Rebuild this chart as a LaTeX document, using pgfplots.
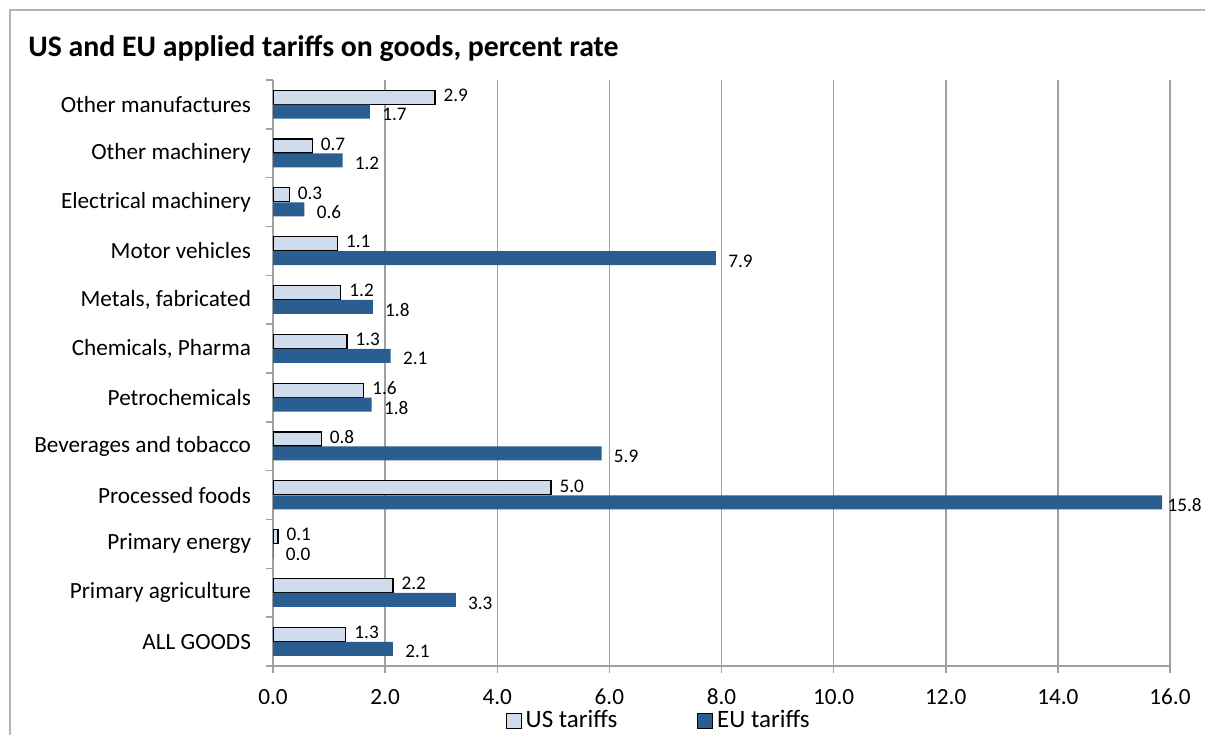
\documentclass[border=0pt]{standalone}
\usepackage{fontspec}
\setmainfont{Carlito}
\usepackage{pgfplots}
\pgfplotsset{compat=1.18}
\definecolor{usfill}{RGB}{208,219,235}
\definecolor{eufill}{RGB}{42,93,144}
\definecolor{gridc}{RGB}{160,160,160}
\definecolor{framec}{RGB}{180,180,180}
\begin{document}
\begin{tikzpicture}
\useasboundingbox (0,0) rectangle (602.5pt,367pt);
\draw[framec, line width=1pt] (5pt,-2pt) -- (5pt,362pt) -- (606pt,362pt);
\node[anchor=base west, font=\fontsize{14.9}{18}\selectfont\bfseries, inner sep=0pt] at (14pt,338.5pt) {US and EU applied tariffs on goods, percent rate};
\begin{axis}[
  at={(136.5pt,34pt)}, anchor=south west, scale only axis,
  width=448.5pt, height=293pt,
  xbar, bar width=7pt,
  xmin=0, xmax=16, ymin=-0.5, ymax=11.5,
  xtick={0,2,...,16},
  /pgf/number format/fixed, /pgf/number format/fixed zerofill,
  /pgf/number format/precision=1, /pgf/number format/assume math mode=true,
  ticklabel style={font=\fontsize{11.6}{14}\selectfont},
  xticklabel style={yshift=-4.5pt},
  yticklabel style={xshift=-4pt},
  ytick={0,...,11},
  yticklabels={ALL GOODS, Primary agriculture, Primary energy, Processed foods, Beverages and tobacco, Petrochemicals, {Chemicals, Pharma}, {Metals, fabricated}, Motor vehicles, Electrical machinery, Other machinery, Other manufactures},
  minor ytick={-0.5,0.5,...,11.5},
  every major y tick/.append style={draw=none},
  major tick length=3.5pt, minor tick length=3.5pt, tick align=outside,
  xmajorgrids, grid style={gridc, line width=0.75pt},
  axis x line*=bottom, axis y line*=left,
  axis line style={gridc, line width=0.75pt, -},
  tick style={gridc, line width=0.75pt},
  nodes near coords, point meta=explicit symbolic,
  every node near coord/.append style={font=\fontsize{9.6}{11}\selectfont, anchor=west, inner sep=0pt, text=black},
  legend image code/.code={\draw[#1] (0pt,-3.75pt) rectangle (7.5pt,3.75pt);},
  legend style={at={(0.431,-0.0934)}, anchor=center, draw=none, fill=none, font=\fontsize{12.5}{14}\selectfont, legend columns=2, /tikz/every even column/.append style={column sep=38pt}},
]
\addplot[draw=black, fill=usfill, line width=0.6pt, bar shift=3.6pt, every node near coord/.append style={xshift=4pt, yshift=1pt}] coordinates {
(1.30,0) [1.3]
(2.14,1) [2.2]
(0.09,2) [0.1]
(4.96,3) [5.0]
(0.86,4) [0.8]
(1.62,5) [1.6]
(1.32,6) [1.3]
(1.21,7) [1.2]
(1.15,8) [1.1]
(0.29,9) [0.3]
(0.70,10) [0.7]
(2.89,11) [2.9]
};
\addlegendentry{US tariffs}
\addplot[draw=none, fill=eufill, bar shift=-3.6pt, every node near coord/.append style={xshift=6pt, yshift=-1.5pt}] coordinates {
(2.14,0) [2.1]
(3.26,1) [3.3]
(0.01,2) [0.0]
(15.86,3) [\kern-3.5pt 15.8]
(5.86,4) [5.9]
(1.76,5) [1.8]
(2.10,6) [2.1]
(1.78,7) [1.8]
(7.90,8) [7.9]
(0.56,9) [0.6]
(1.24,10) [1.2]
(1.73,11) [1.7]
};
\addlegendentry{EU tariffs}
\end{axis}
\end{tikzpicture}
\end{document}
